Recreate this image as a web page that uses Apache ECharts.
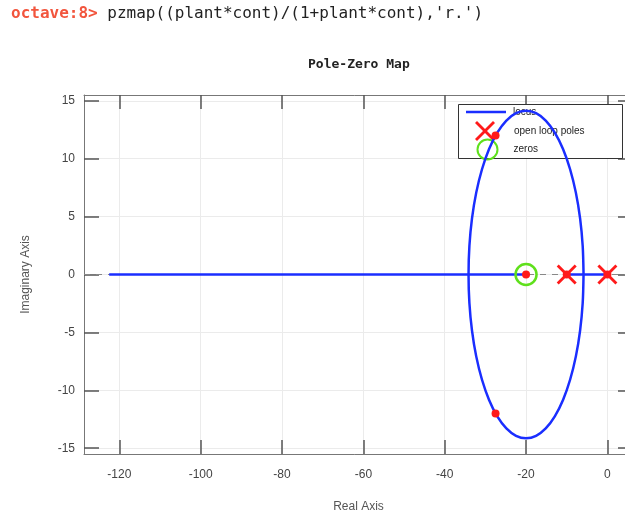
<!DOCTYPE html>
<html>
<head>
<meta charset="utf-8">
<script src="https://cdn.jsdelivr.net/npm/echarts@6/dist/echarts.min.js"></script>
<style>
html,body{margin:0;padding:0;background:#fff;}
#chart{width:625px;height:516px;}
</style>
</head>
<body>
<div id="chart"></div>
<script>
// ---- data ----
const xTicks = [-120, -100, -80, -60, -40, -20, 0];
const yTicks = [-15, -10, -5, 0, 5, 10, 15];
const xRange = [-128.7, 6.3];
const yRange = [-15.5, 15.5];

// root locus: real-axis branches
const locusRealLeft = [[-122.5, 0], [-20, 0]];
const locusRealRight = [[-10, 0], [0, 0]];
// root locus: complex branch (loop around the zero at -20)
const locusLoopRe = [-5.86, -6.07, -6.71, -7.75, -9.17, -10.91, -12.93, -15.16, -17.54, -20.00,
  -22.46, -24.84, -27.07, -29.09, -30.83, -32.25, -33.29, -33.93, -34.14,
  -33.93, -33.29, -32.25, -30.83, -29.09, -27.07, -24.84, -22.46, -20.00,
  -17.54, -15.16, -12.93, -10.91, -9.17, -7.75, -6.71, -6.07, -5.86];
const locusLoopIm = [0, 2.46, 4.84, 7.07, 9.09, 10.83, 12.25, 13.29, 13.93, 14.14,
  13.93, 13.29, 12.25, 10.83, 9.09, 7.07, 4.84, 2.46, 0,
  -2.46, -4.84, -7.07, -9.09, -10.83, -12.25, -13.29, -13.93, -14.14,
  -13.93, -13.29, -12.25, -10.83, -9.09, -7.07, -4.84, -2.46, 0];

const openLoopPolesRe = [0, -10];
const openLoopPolesIm = [0, 0];
const zerosRe = [-20];
const zerosIm = [0];
// closed loop poles / zeros ('r.')
const closedRe = [-27.5, -27.5, -20, -10, 0];
const closedIm = [12, -12, 0, 0, 0];

const legendNames = ['locus', 'open loop poles', 'zeros'];
// -------------------------------------

const pair = (re, im) => re.map((v, i) => [v, im[i]]);

const FONT = 'Liberation Sans, Arial, sans-serif';
const MONO = 'DejaVu Sans Mono, Liberation Mono, monospace';
const BLUE = '#1a2eff';
const RED = '#ff1a1a';
const GREEN = '#5fe01c';
const X_PATH = 'path://M0,2 L2,0 L10,8 L18,0 L20,2 L12,10 L20,18 L18,20 L10,12 L2,20 L0,18 L8,10 Z';
const BAR_PATH = 'path://M0,0 L16,0 L16,1 L0,1 Z';

const chart = echarts.init(document.getElementById('chart'), null, {renderer: 'canvas'});

const tickStyle = {lineStyle: {color: '#555', width: 1.5}};

const legendText = (padLeft) => ({fontFamily: FONT, fontSize: 10, color: '#222', padding: [0, 0, 0, padLeft]});
const legendBase = {
  orient: 'horizontal', padding: 0,
  itemWidth: 40, itemHeight: 20, itemGap: 0,
  selectedMode: false, z: 1.5
};

chart.setOption({
  animation: false,
  backgroundColor: '#fff',
  title: {
    text: 'Pole-Zero Map',
    left: 308, top: 58, padding: 0,
    textStyle: {fontFamily: MONO, fontWeight: 'bold', fontSize: 13, color: '#222'}
  },
  graphic: [{
    type: 'text',
    left: 11, top: 6,
    style: {
      text: '{p|octave:8>} {c|pzmap((plant*cont)/(1+plant*cont),\'r.\')}',
      rich: {
        p: {fontFamily: MONO, fontSize: 16, fontWeight: 'bold', fill: '#f2553d'},
        c: {fontFamily: MONO, fontSize: 16, fill: '#222'}
      },
      fontFamily: MONO, fontSize: 16
    }
  }, {
    type: 'rect', z: 1,
    shape: {x: 458.5, y: 104.5, width: 164, height: 54},
    style: {fill: '#fff', stroke: '#333', lineWidth: 1}
  }],
  legend: [
    Object.assign({}, legendBase, {left: 466, top: 107, data: [{name: legendNames[0], icon: BAR_PATH}],
      textStyle: legendText(2)}),
    Object.assign({}, legendBase, {left: 475, top: 121, data: [legendNames[1]],
      textStyle: legendText(4)}),
    Object.assign({}, legendBase, {left: 475, top: 137, data: [legendNames[2]],
      textStyle: legendText(1)})
  ],
  grid: {left: 84, top: 95, width: 549, height: 359, outerBoundsMode: 'none', containLabel: false},
  xAxis: [{
    type: 'value', min: xRange[0], max: xRange[1],
    name: 'Real Axis', nameLocation: 'middle', nameGap: 47,
    nameTextStyle: {fontFamily: FONT, fontSize: 12, color: '#555'},
    axisLine: {show: true, onZero: false, lineStyle: {color: '#777', width: 1}},
    axisTick: {show: true, inside: true, length: 14, customValues: xTicks, ...tickStyle},
    axisLabel: {customValues: xTicks, margin: 15, fontFamily: FONT, fontSize: 12, color: '#444'},
    splitLine: {show: true, lineStyle: {color: '#ebebeb', width: 1}}
  }, {
    type: 'value', min: xRange[0], max: xRange[1], position: 'top',
    axisLine: {show: true, onZero: false, lineStyle: {color: '#777', width: 1}},
    axisTick: {show: true, inside: true, length: 14, customValues: xTicks, ...tickStyle},
    axisLabel: {show: false},
    splitLine: {show: false}
  }],
  yAxis: [{
    type: 'value', min: yRange[0], max: yRange[1],
    name: 'Imaginary Axis', nameLocation: 'middle', nameGap: 52, nameRotate: 90,
    nameTextStyle: {fontFamily: FONT, fontSize: 12, color: '#555'},
    axisLine: {show: true, onZero: false, lineStyle: {color: '#777', width: 1}},
    axisTick: {show: true, inside: true, length: 15, customValues: yTicks, ...tickStyle},
    axisLabel: {customValues: yTicks, margin: 9, fontFamily: FONT, fontSize: 12, color: '#444'},
    splitLine: {show: true, lineStyle: {color: '#ebebeb', width: 1}}
  }, {
    type: 'value', min: yRange[0], max: yRange[1], position: 'right',
    axisLine: {show: true, onZero: false, lineStyle: {color: '#777', width: 1}},
    axisTick: {show: true, inside: true, length: 15, customValues: yTicks, ...tickStyle},
    axisLabel: {show: false},
    splitLine: {show: false}
  }],
  series: [
    {
      name: 'axis0', type: 'line', data: [], symbol: 'none', z: 1,
      markLine: {
        silent: true, symbol: 'none', label: {show: false}, z: 1,
        lineStyle: {color: '#888', type: [6, 6], width: 1},
        data: [{yAxis: 0}]
      }
    },
    {
      name: 'open loop poles', type: 'scatter', z: 2,
      data: pair(openLoopPolesRe, openLoopPolesIm),
      symbol: X_PATH, symbolSize: 20,
      itemStyle: {color: RED, opacity: 1}
    },
    {
      name: 'locus', type: 'line', data: locusRealLeft, z: 3,
      symbol: 'none', lineStyle: {color: BLUE, width: 2.5}, itemStyle: {color: BLUE}
    },
    {
      name: 'locus', type: 'line', data: locusRealRight, z: 3,
      symbol: 'none', lineStyle: {color: BLUE, width: 2.5}, itemStyle: {color: BLUE}
    },
    {
      name: 'locus', type: 'line', data: pair(locusLoopRe, locusLoopIm), z: 3,
      symbol: 'none', smooth: 0.3, lineStyle: {color: BLUE, width: 2.5}, itemStyle: {color: BLUE}
    },
    {
      name: 'zeros', type: 'scatter', z: 4,
      data: pair(zerosRe, zerosIm),
      symbol: 'circle', symbolSize: 21,
      itemStyle: {color: 'none', borderColor: GREEN, borderWidth: 2.5, opacity: 1}
    },
    {
      name: 'closed loop', type: 'scatter', z: 5,
      data: pair(closedRe, closedIm),
      symbol: 'circle', symbolSize: 8,
      itemStyle: {color: RED, opacity: 1}
    }
  ]
});
</script>
</body>
</html>
